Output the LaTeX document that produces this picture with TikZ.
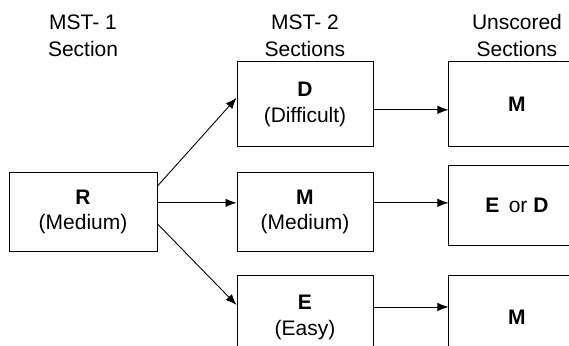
\documentclass[tikz,border=0pt]{standalone}
\usepackage{fontspec}
\setmainfont{Liberation Sans}
\usepackage{tikz}
\usetikzlibrary{shapes.geometric, arrows.meta}
\tikzstyle{section} = [rectangle,
					  minimum width=4.78cm,
					  minimum height=2.99cm,
					  text centered,
					  align=center,
					  draw=black,
					  line width=0.9pt,
					  font=\fontsize{21}{26}\selectfont,
					 ]
\tikzstyle{heading} = [align=center,
					  text centered,
					  font=\fontsize{21}{27}\selectfont,
					 ]
\tikzstyle{arrow} = [line width=0.9pt,-{Latex[length=11pt,width=8.5pt]}]

\begin{document}
\begin{tikzpicture}[node distance=7.8cm]

\useasboundingbox (0,0) rectangle (20,-12.13);

\node (R) [section, minimum width=5.2cm, minimum height=2.81cm] at (2.92,-7.45) {\textbf{R} \\ (Medium)};
\node (M_c) [section, minimum height=2.81cm, right of =R] {\textbf{M} \\ (Medium)};
\node (D_c) [section, above of =M_c, yshift=-4.02cm] {\textbf{D} \\ (Difficult)};
\node (E_c) [section, below of =M_c, yshift=4.09cm] {\textbf{E} \\ (Easy)};

\node (M_u) [section, right of =D_c, xshift=-0.35cm] {\textbf{M}};
\node (ED_u) [section, minimum height=2.78cm, right of =M_c, xshift=-0.35cm, yshift=0.23cm] {\textbf{E}\, or \textbf{D}};
\node (M_l) [section, right of =E_c, xshift=-0.35cm] {\textbf{M}};

\node (h_1) [heading, above of =R, yshift=-1.6cm] {MST- 1 \\ Section};
\node (h_2) [heading, above of =M_c, yshift=-1.6cm] {MST- 2 \\ Sections};
\node (h_3) [heading, above of =M_c, xshift=7.45cm, yshift=-1.6cm] {Unscored \\ Sections};

\draw [arrow] ([yshift=0.91cm]R.east) -- ([yshift=0.23cm]D_c.west);
\draw [arrow] ([yshift=0.32cm]R.east) -- ([yshift=0.32cm]M_c.west);
\draw [arrow] ([yshift=-0.42cm]R.east) -- ([yshift=0.44cm]E_c.west);
\draw [arrow] ([yshift=-0.19cm]D_c.east) -- ([yshift=-0.19cm]D_c.east -| M_u.west);
\draw [arrow] ([yshift=0.32cm]M_c.east) -- ([yshift=0.32cm]M_c.east -| ED_u.west);
\draw [arrow] ([yshift=0.37cm]E_c.east) -- ([yshift=0.37cm]E_c.east -| M_l.west);

\end{tikzpicture}
\end{document}
